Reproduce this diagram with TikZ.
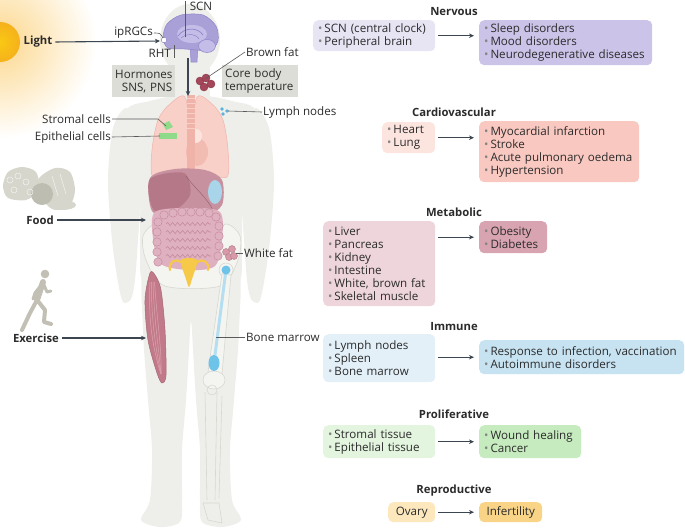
\documentclass[tikz,border=0pt]{standalone}
\usepackage{fontspec}
\setmainfont{Open Sans}
\usetikzlibrary{arrows.meta,decorations.pathmorphing}
\definecolor{txt}{HTML}{2B2B2B}
\definecolor{arrc}{HTML}{3C4650}
\definecolor{lblc}{HTML}{5A5A5A}
\definecolor{bulc}{HTML}{858585}
\definecolor{bodyc}{HTML}{EEEEEB}
\definecolor{grayboxc}{HTML}{DDDDD7}
\definecolor{nervL}{HTML}{E7E4F4}
\definecolor{nervR}{HTML}{CBC3E8}
\definecolor{cardL}{HTML}{FCE4DF}
\definecolor{cardR}{HTML}{F9C9C1}
\definecolor{metaL}{HTML}{EED5DB}
\definecolor{metaR}{HTML}{D9A4B1}
\definecolor{immL}{HTML}{E3F0F8}
\definecolor{immR}{HTML}{C7E3F2}
\definecolor{proL}{HTML}{E3F4DF}
\definecolor{proR}{HTML}{C6EBBF}
\definecolor{repL}{HTML}{FDE8BE}
\definecolor{repR}{HTML}{F9D486}
\definecolor{lungc}{HTML}{F9D0C8}
\definecolor{lunge}{HTML}{F0B3AA}
\definecolor{liverc}{HTML}{C7919F}
\definecolor{liverd}{HTML}{B57888}
\definecolor{gutc}{HTML}{DFB0C0}
\definecolor{gutl}{HTML}{C58CA0}
\definecolor{spleenc}{HTML}{A9D5EA}
\definecolor{brainc}{HTML}{A9A0D8}
\definecolor{braind}{HTML}{8F86C8}
\definecolor{brainl}{HTML}{C4BDE8}
\definecolor{brownc}{HTML}{A6465A}
\definecolor{whitefc}{HTML}{D89AA8}
\definecolor{lymphc}{HTML}{5AB3DC}
\definecolor{cellc}{HTML}{8FDB8A}
\definecolor{musclec}{HTML}{C27A8A}
\definecolor{musclel}{HTML}{DDA3AF}
\definecolor{bonec}{HTML}{D8D8D0}
\definecolor{bonef}{HTML}{F4F4F1}
\definecolor{marrowc}{HTML}{6EC3E8}
\definecolor{marrowl}{HTML}{B5DFF0}
\definecolor{uterc}{HTML}{F7C948}
\definecolor{foodc}{HTML}{D6D6CD}
\definecolor{foodd}{HTML}{BDBDB2}
\definecolor{runc}{HTML}{C2C0B4}
\definecolor{sunc}{HTML}{F6B11C}
\definecolor{glowc}{HTML}{FCD78C}
\newcommand{\bul}{{\color{bulc}\textbullet}\,}
\begin{document}
\begin{tikzpicture}[x=1pt,y=-1pt,
  txtfont/.style={font=\fontsize{11.6}{13}\selectfont, text=txt},
  box/.style={txtfont, rounded corners=5pt, inner xsep=5pt, inner ysep=2pt, align=left, anchor=north west},
  ttl/.style={font=\fontsize{11.3}{13}\selectfont\bfseries, text=txt, inner sep=1pt},
  lab/.style={txtfont, inner sep=1pt},
  blab/.style={font=\fontsize{11.3}{13}\selectfont\bfseries, text=txt, inner sep=1pt},
  arr/.style={draw=arrc, line width=1.1pt, -{Stealth[length=5pt,width=4.5pt]}},
  lbl/.style={draw=lblc, line width=0.6pt},
  graybox/.style={txtfont, fill=grayboxc, inner xsep=3pt, inner ysep=2pt, anchor=north west}
]
\useasboundingbox (0,0) rectangle (685,531);
\clip (0,0) rectangle (685,531);
% ---------- sun ----------
\shade[inner color=glowc, outer color=white] (0,42) circle (96);
\shade[inner color=sunc!70!yellow, outer color=sunc] (0,42) circle (20);
% ---------- body silhouette ----------
\fill[bodyc] (190,40) ellipse (30 and 36);
\fill[bodyc] (172,55) rectangle (210,106);
\fill[bodyc] plot[smooth cycle] coordinates {(175,96) (150,101) (127,110) (134,150) (140,200) (140,250) (145,285) (191,300) (237,285) (242,250) (242,200) (248,150) (255,110) (232,101) (207,96)};
\fill[bodyc] plot[smooth cycle] coordinates {(127,108) (113,128) (108,180) (112,240) (118,282) (123,302) (131,299) (135,280) (138,240) (141,190) (139,140)};
\fill[bodyc] plot[smooth cycle] coordinates {(255,108) (269,128) (274,180) (270,240) (264,282) (259,302) (251,299) (247,280) (244,240) (241,190) (243,140)};
\fill[bodyc] plot[smooth cycle] coordinates {(145,265) (143,330) (148,400) (152,450) (150,500) (141,520) (160,527) (180,522) (182,500) (182,450) (186,400) (190,330) (191,290)};
\fill[bodyc] plot[smooth cycle] coordinates {(237,265) (239,330) (234,400) (230,450) (232,500) (241,520) (222,527) (202,522) (200,500) (200,450) (196,400) (192,330) (191,290)};
% ---------- pelvis ----------
\draw[bonec, fill=bonef, line width=0.6pt] plot[smooth cycle] coordinates {(143,236) (156,224) (174,238) (208,238) (226,224) (240,236) (238,260) (220,286) (165,286) (146,260)};
% ---------- lungs, heart ----------
\draw[lunge, fill=lungc, line width=0.5pt] plot[smooth cycle] coordinates {(186,99) (170,104) (158,120) (152,150) (153,177) (176,172) (189,166)};
\draw[lunge, fill=lungc, line width=0.5pt] plot[smooth cycle] coordinates {(196,99) (212,104) (223,120) (228,150) (227,177) (206,172) (193,166)};
\fill[lunge!70!lungc] (197,152) ellipse (11 and 14);
\fill[white!40!lungc] (196,136) ellipse (6 and 7);
\fill[lunge] (187,95) rectangle (195,172);
\foreach \yy in {98,103,...,128} \draw[lungc, line width=0.6pt] (187,\yy) -- (195,\yy);
% ---------- liver, stomach ----------
\fill[liverc] plot[smooth cycle] coordinates {(150,178) (175,169) (205,170) (222,180) (222,205) (205,216) (175,219) (152,211)};
\fill[liverd] plot[smooth cycle] coordinates {(150,179) (184,173) (190,195) (172,212) (153,209)};
\draw[liverd!80!black, line width=0.4pt] (186,176) .. controls (196,190) and (206,196) .. (214,212);
\fill[spleenc] (215,192) ellipse (7 and 12);
% ---------- intestines ----------
\fill[gutc] plot[smooth cycle] coordinates {(155,212) (190,208) (220,212) (222,240) (215,266) (190,270) (161,264) (153,238)};
\foreach \cx/\cy in {158/262,157/252,157/242,157/232,158/222,164/215,173/213,182/212,191/212,200/212,209/213,216/217,219/226,219/236,219/246,218/256}
  \draw[gutl, fill=gutc, line width=0.5pt] (\cx,\cy) circle (4.2);
\foreach \yy in {224,232,240,248,256}
  \draw[gutl, line width=0.6pt, decorate, decoration={snake, amplitude=1.6pt, segment length=5pt}] (166,\yy) -- (211,\yy);
% ---------- reproductive ----------
\fill[uterc] plot[smooth cycle] coordinates {(181,260) (197,260) (192,279) (189,287) (186,279)};
\draw[uterc, line width=2.2pt, line cap=round] (170,270) .. controls (168,262) and (176,258) .. (181,262);
\draw[uterc, line width=2.2pt, line cap=round] (208,270) .. controls (210,262) and (202,258) .. (197,262);
% ---------- fats, nodes, cells ----------
\foreach \cx/\cy in {200/81,206/78,211/84,204/87}
  \draw[brownc!80!black, fill=brownc, line width=0.4pt] (\cx,\cy) circle (4);
\foreach \cx/\cy in {226/252,232/249,229/257,234/256}
  \draw[whitefc!80!black, fill=whitefc, line width=0.4pt] (\cx,\cy) circle (3.5);
\foreach \cx/\cy in {222/109,227/111,223/114}
  \fill[lymphc] (\cx,\cy) circle (1.8);
\fill[cellc] (163,124) -- (169,121) -- (173,127) -- (166,130) -- cycle;
\fill[cellc] (159,133) rectangle (177,139);
% ---------- muscle ----------
\draw[musclec!85!black, fill=musclec, line width=0.5pt] plot[smooth cycle] coordinates {(150,273) (145,300) (148,340) (157,373) (162,383) (166,375) (165,330) (161,290) (155,275)};
\foreach \dx in {-2,1,4,7}
  \draw[musclel, line width=0.5pt] (151+\dx*0.5,282) .. controls (150+\dx,320) and (155+\dx,350) .. (161,374);
% ---------- leg bones ----------
\draw[bonec, fill=bonef, line width=0.6pt] (226,270) circle (7);
\draw[bonec, fill=bonef, line width=0.6pt] (222,274) -- (208,372) -- (222,374) -- (231,275) -- cycle;
\draw[bonec, fill=bonef, line width=0.6pt] (214,380) ellipse (11 and 9);
\draw[marrowl, line width=3pt] (226,270) -- (215,355);
\fill[marrowc] (226,270) circle (4.5);
\fill[marrowc] (214,363) ellipse (5.5 and 8);
\draw[bonec, line width=0.6pt] (212,390) circle (5);
\draw[bonec, line width=0.6pt] (205,392) -- (207,500);
\draw[bonec, line width=0.6pt] (217,392) -- (215,500);
\draw[bonec, line width=0.6pt] (222,396) -- (219,498);
\draw[bonec, line width=0.6pt] (203,503) -- (208,520) -- (222,523) -- (219,503) -- cycle;
% ---------- brain ----------
\draw[braind, fill=brainc, line width=0.5pt] (190,44) -- (198,44) -- (197,62) -- (191,62) -- cycle;
\draw[braind, fill=brainc, line width=0.5pt] plot[smooth cycle] coordinates {(163,38) (167,24) (181,15) (203,15) (216,26) (218,41) (210,51) (197,50) (185,49) (168,48)};
\fill[brainl] (192,34) ellipse (15 and 9);
\draw[braind, fill=brainl, line width=0.5pt] (207,46) ellipse (8.5 and 6.5);
\draw[braind, line width=0.7pt] (178,36) .. controls (184,27) and (198,27) .. (203,35);
\draw[braind, line width=0.5pt] (181,38) .. controls (187,33) and (195,33) .. (199,39);
\draw[braind, fill=white, line width=0.5pt] (164,40) circle (2.8);
% ---------- food ----------
\fill[foodc] plot[smooth cycle] coordinates {(3,186) (8,172) (22,167) (36,172) (39,190) (26,200) (8,198)};
\fill[foodc] plot[smooth cycle] coordinates {(38,180) (55,168) (70,172) (75,190) (70,205) (55,210) (44,201)};
\fill[foodd] (42,194) circle (11);
\fill[foodc] (62,205) ellipse (14 and 5);
\foreach \cx/\cy in {10/180,18/176,26/182,14/190,30/192}
  \draw[white!70!foodc, line width=0.5pt] (\cx,\cy) circle (3);
\draw[white!70!foodc, line width=0.5pt] (52,176) -- (58,196);
\draw[white!70!foodc, line width=0.5pt] (60,174) -- (66,194);
% ---------- runner ----------
\begin{scope}[runc, line cap=round, line join=round]
\fill (45,274) circle (4.3);
\draw[line width=6pt] (43,282) -- (37,300);
\draw[line width=3pt] (42,284) -- (35,293) -- (33,299);
\draw[line width=3pt] (44,285) -- (47,292) -- (51,291);
\draw[line width=4pt] (37,300) -- (30,313) -- (22,330);
\draw[line width=4pt] (37,300) -- (45,310) -- (44,322) -- (51,324);
\end{scope}
% ---------- left labels ----------
\node[blab] (light) at (38,42) {Light};
\coordinate (eye) at (160,41);
\draw[arr, shorten <=2pt] (light.east) -- (eye);
\node[lab] (scnl) at (201,6) {SCN};
\coordinate (scnpt) at (185,37);
\draw[lbl] (scnpt) -- (scnpt |- scnl.north);
\node[lab, anchor=east] (ipr) at (154,33) {ipRGCs};
\draw[lbl] (ipr.east) .. controls (160,33) .. (163,38);
\node[lab, anchor=east] (rht) at (172,53) {RHT};
\coordinate (rhtpt) at (174,45);
\draw[lbl] (rhtpt) -- (rhtpt |- rht.south);
\coordinate (stem) at (188,58);
\coordinate (chest) at (188,96);
\draw[arr] (stem) -- (chest);
\node[graybox, minimum width=63pt, minimum height=32pt, text width=57pt, align=right] (horm) at (112,65) {Hormones\\SNS, PNS};
\node[graybox, minimum width=76pt, minimum height=32pt, text width=70pt, align=left] (core) at (222,65) {Core body\\temperature};
\node[lab, anchor=west] (bfat) at (245,52) {Brown fat};
\coordinate (bfpt) at (205,79);
\draw[lbl] (bfpt) -- (bfat.west);
\node[lab, anchor=west] (lymphl) at (262,112) {Lymph nodes};
\coordinate (lnpt) at (228,111);
\draw[lbl] (lnpt) -- (lymphl.west);
\node[lab, anchor=east] (strl) at (112,119) {Stromal cells};
\coordinate (strpt) at (166,126);
\draw[lbl] (strl.east) -- (158,119) -- (strpt);
\node[lab, anchor=east] (epil) at (112,137) {Epithelial cells};
\coordinate (epipt) at (160,136);
\draw[lbl] (epil.east) -- (epipt);
\node[blab] (food) at (40,220) {Food};
\coordinate (gut) at (146,220);
\draw[arr, shorten <=2pt] (food.east) -- (gut);
\node[lab, anchor=west] (wfat) at (243,253) {White fat};
\coordinate (wfpt) at (236,253);
\draw[lbl] (wfpt) -- (wfat.west);
\node[blab] (exer) at (36,338) {Exercise};
\coordinate (musc) at (146,338);
\draw[arr, shorten <=2pt] (exer.east) -- (musc);
\node[lab, anchor=west] (bm) at (245,337) {Bone marrow};
\coordinate (bmpt) at (216,337);
\draw[lbl] (bmpt) -- (bm.west);
% ---------- right panels ----------
\node[ttl] (tn) at (454,12) {Nervous};
\node[box, fill=nervL, text width=112pt, minimum height=31pt] (scn) at (313,20) {\bul SCN (central clock)\\\bul Peripheral brain};
\node[box, fill=nervR, text width=163pt, minimum height=45pt] (sleep) at (479,20) {\bul Sleep disorders\\\bul Mood disorders\\\bul Neurodegenerative diseases};
\draw[arr, shorten <=3pt, shorten >=5pt] (scn.east) -- (scn.east -| sleep.west);

\node[ttl] (tc) at (454,112) {Cardiovascular};
\node[box, fill=cardL, text width=43pt, minimum height=31pt] (heart) at (382,122) {\bul Heart\\\bul Lung};
\node[box, fill=cardR, text width=150pt, minimum height=61pt] (myo) at (479,121) {\bul Myocardial infarction\\\bul Stroke\\\bul Acute pulmonary oedema\\\bul Hypertension};
\draw[arr, shorten <=3pt, shorten >=5pt] (heart.east) -- (heart.east -| myo.west);

\node[ttl] (tm) at (454,212) {Metabolic};
\node[box, fill=metaL, text width=102pt, minimum height=85pt] (liver) at (323,221) {\bul Liver\\\bul Pancreas\\\bul Kidney\\\bul Intestine\\\bul White, brown fat\\\bul Skeletal muscle};
\node[box, fill=metaR, text width=58pt, minimum height=32pt] (obes) at (479,221) {\bul Obesity\\\bul Diabetes};
\draw[arr, shorten <=3pt, shorten >=5pt] (obes.west -| liver.east) -- (obes.west);

\node[ttl] (ti) at (454,327) {Immune};
\node[box, fill=immL, text width=102pt, minimum height=48pt] (lymph) at (323,334) {\bul Lymph nodes\\\bul Spleen\\\bul Bone marrow};
\node[box, fill=immR, text width=195pt, minimum height=34pt] (resp) at (479,340) {\bul Response to infection, vaccination\\\bul Autoimmune disorders};
\draw[arr, shorten <=3pt, shorten >=5pt] (resp.west -| lymph.east) -- (resp.west);

\node[ttl] (tp) at (454,414) {Proliferative};
\node[box, fill=proL, text width=102pt, minimum height=33pt] (strom) at (323,425) {\bul Stromal tissue\\\bul Epithelial tissue};
\node[box, fill=proR, text width=92pt, minimum height=33pt] (wound) at (479,425) {\bul Wound healing\\\bul Cancer};
\draw[arr, shorten <=3pt, shorten >=5pt] (strom.east) -- (wound.west);

\node[ttl] (tr) at (454,491) {Reproductive};
\node[box, fill=repL, text width=37pt, minimum height=20pt, align=center] (ovary) at (388,502) {Ovary};
\node[box, fill=repR, text width=53pt, minimum height=20pt, align=center] (infert) at (479,502) {Infertility};
\draw[arr, shorten <=3pt, shorten >=5pt] (ovary.east) -- (infert.west);
\end{tikzpicture}
\end{document}
